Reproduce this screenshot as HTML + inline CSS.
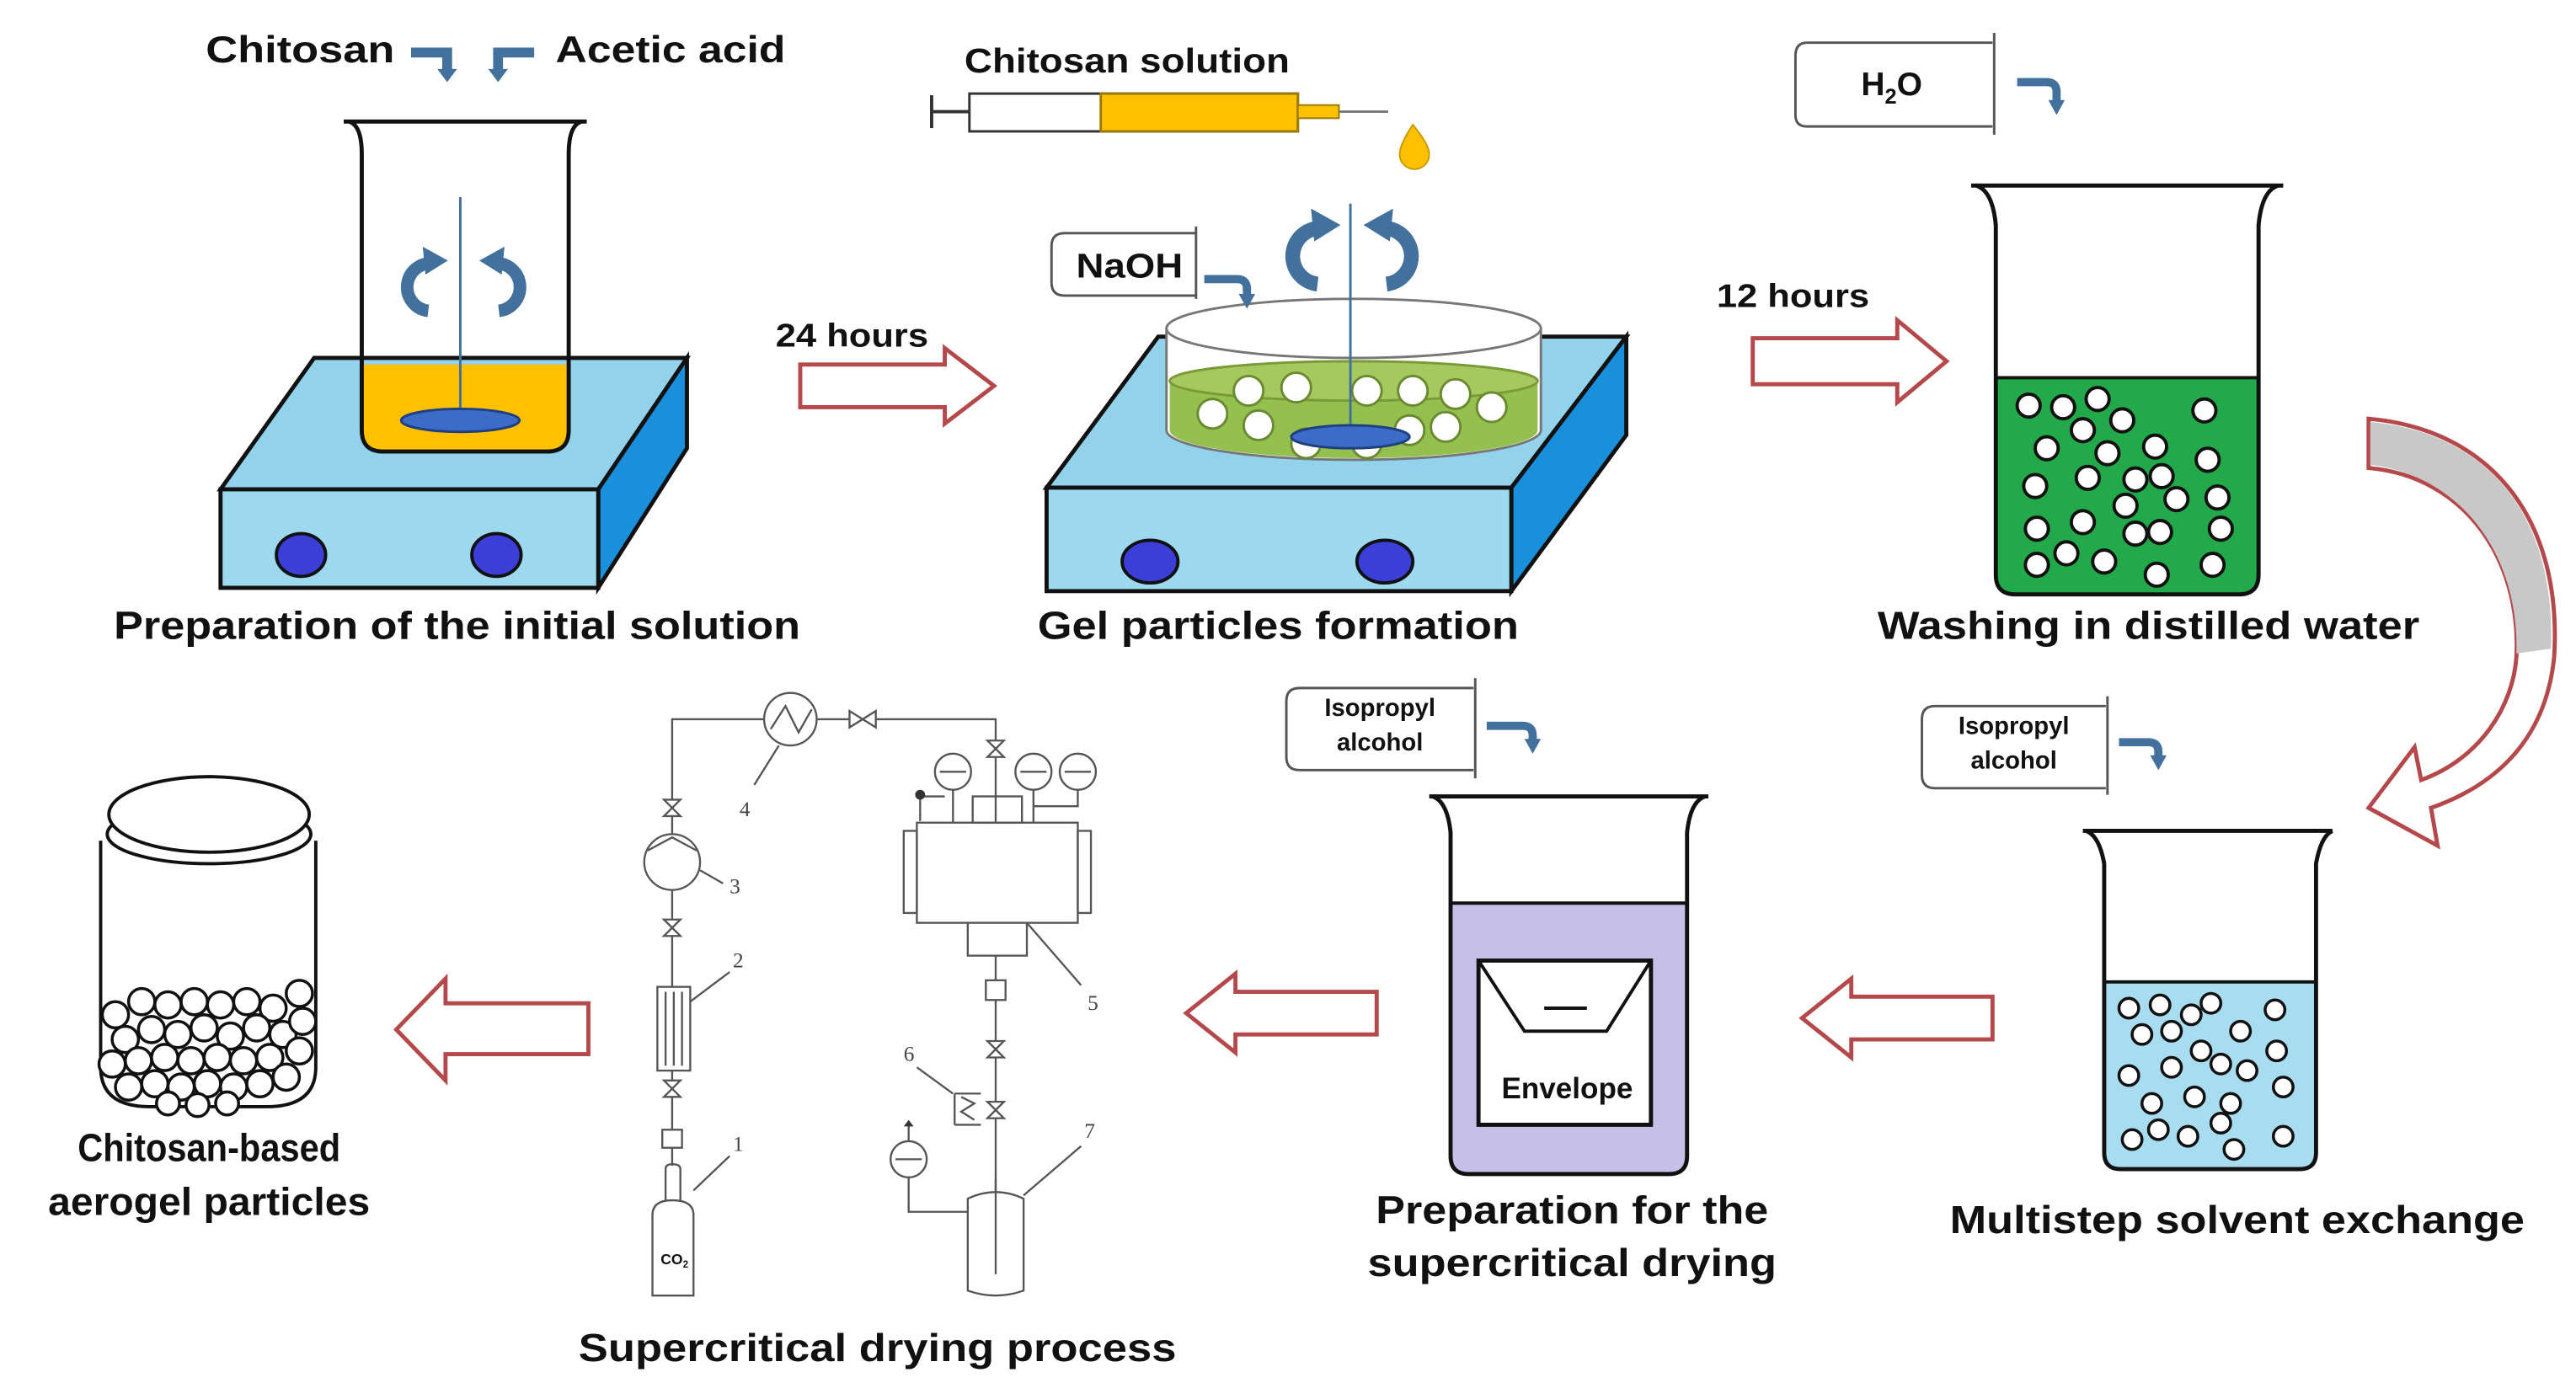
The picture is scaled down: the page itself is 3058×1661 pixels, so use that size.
<!DOCTYPE html>
<html><head><meta charset="utf-8"><style>
html,body{margin:0;padding:0;background:#fff;}
svg{display:block;}
text{font-family:"Liberation Sans",Arial,sans-serif;font-weight:bold;fill:#111;}
.sch{fill:none;stroke:#555;stroke-width:1.2;}
.num{font-family:"Liberation Serif",serif;font-weight:normal;font-size:13px;fill:#444;}
</style></head><body>
<svg width="3058" height="1661" viewBox="0 0 1568 852" xmlns="http://www.w3.org/2000/svg">
<defs>
<g id="rotL"><path d="M14,-16 A16,16 0 1 0 10,18" fill="none" stroke="#41719c" stroke-width="9"/><path d="M6,-28 l18,10 l-16,10z" fill="#41719c"/></g>
</defs>

<!-- ===== Panel 1 ===== -->
<text x="125" y="38" font-size="23" textLength="115" lengthAdjust="spacingAndGlyphs">Chitosan</text>
<text x="338" y="38" font-size="23" textLength="140" lengthAdjust="spacingAndGlyphs">Acetic acid</text>
<path d="M250,32 h22 v12" fill="none" stroke="#41719c" stroke-width="6"/><path d="M266,42 l6,8 l6,-8z" fill="#41719c"/>
<path d="M325,32 h-22 v12" fill="none" stroke="#41719c" stroke-width="6"/><path d="M297,42 l6,8 l6,-8z" fill="#41719c"/>
<!-- hot plate 1 -->
<polygon points="134,298 191,218 418,218 364,298" fill="#92d2ea" stroke="#111" stroke-width="2.5"/>
<polygon points="364,298 418,218 418,273 364,358" fill="#1a8fdc" stroke="#111" stroke-width="2.5"/>
<rect x="134" y="298" width="230" height="60" fill="#9cd8ee" stroke="#111" stroke-width="2.5"/>
<ellipse cx="183" cy="338" rx="15" ry="13" fill="#3b3fd8" stroke="#111" stroke-width="2"/>
<ellipse cx="302" cy="338" rx="15" ry="13" fill="#3b3fd8" stroke="#111" stroke-width="2"/>
<!-- beaker 1 -->
<path d="M220,222 V262 q0,13 13,13 H333 q13,0 13,-13 V222z" fill="#ffc000"/>
<path d="M209,74 H357 M212,74 q8,2 8,20 V262 q0,13 13,13 H333 q13,0 13,-13 V94 q0,-18 8,-20" fill="none" stroke="#111" stroke-width="2.5"/>
<line x1="280" y1="120" x2="280" y2="250" stroke="#41719c" stroke-width="1.5"/>
<ellipse cx="280" cy="256" rx="36" ry="7" fill="#3a6cc8" stroke="#1f3f80" stroke-width="1.5"/>
<use href="#rotL" transform="translate(252,174) scale(0.85)"/>
<use href="#rotL" transform="translate(312,174) scale(-0.85,0.85)"/>
<text x="278" y="389" font-size="24" text-anchor="middle" textLength="418" lengthAdjust="spacingAndGlyphs">Preparation of the initial solution</text>

<!-- arrow 24h -->
<text x="472" y="211" font-size="20" textLength="93" lengthAdjust="spacingAndGlyphs">24 hours</text>
<path d="M487,222 H575 V212 L605,235 L575,258 V248 H487z" fill="#fff" stroke="#b5484a" stroke-width="2.5"/>

<!-- ===== Panel 2 ===== -->
<text x="587" y="44" font-size="21" textLength="198" lengthAdjust="spacingAndGlyphs">Chitosan solution</text>
<line x1="567" y1="68" x2="590" y2="68" stroke="#333" stroke-width="2"/>
<line x1="567" y1="58" x2="567" y2="78" stroke="#333" stroke-width="2"/>
<rect x="590" y="57" width="200" height="23" fill="#fff" stroke="#333" stroke-width="1.5"/>
<rect x="670" y="57" width="120" height="23" fill="#ffc000" stroke="#9a7a00" stroke-width="1.5"/>
<rect x="790" y="64" width="25" height="8" fill="#ffc000" stroke="#9a7a00" stroke-width="1"/>
<line x1="815" y1="68" x2="845" y2="68" stroke="#777" stroke-width="1.5"/>
<path d="M860,76 q10,12 10,18 a9,9 0 0 1 -18,0 q0,-6 8,-18z" fill="#ffc000" stroke="#c99a00"/>
<!-- hot plate 2 -->
<polygon points="637,297 705,205 990,205 920,297" fill="#92d2ea" stroke="#111" stroke-width="2.5"/>
<polygon points="920,297 990,205 990,265 920,360" fill="#1a8fdc" stroke="#111" stroke-width="2.5"/>
<rect x="637" y="297" width="283" height="63" fill="#9cd8ee" stroke="#111" stroke-width="2.5"/>
<ellipse cx="700" cy="342" rx="17" ry="13" fill="#3b3fd8" stroke="#111" stroke-width="2"/>
<ellipse cx="843" cy="342" rx="17" ry="13" fill="#3b3fd8" stroke="#111" stroke-width="2"/>
<!-- petri dish -->
<path d="M710,200 V262 A114,18 0 0 0 938,262 V200" fill="#fff" stroke="#777" stroke-width="1.5"/>
<path d="M712,232 V262 A112,17 0 0 0 936,262 V232z" fill="#93c04e"/>
<ellipse cx="824" cy="232" rx="112" ry="12" fill="#a6c85e" stroke="#7a9a38" stroke-width="1.5"/>
<ellipse cx="824" cy="200" rx="114" ry="18" fill="none" stroke="#777" stroke-width="1.5"/>
<g fill="#fff" stroke="#6a8a30" stroke-width="1.5">
<circle cx="738" cy="252" r="9"/><circle cx="760" cy="238" r="9"/><circle cx="766" cy="259" r="9"/><circle cx="789" cy="236" r="9"/>
<circle cx="832" cy="238" r="9"/><circle cx="860" cy="238" r="9"/><circle cx="886" cy="240" r="9"/><circle cx="908" cy="248" r="9"/>
<circle cx="795" cy="270" r="9"/><circle cx="832" cy="270" r="9"/><circle cx="858" cy="262" r="9"/><circle cx="880" cy="260" r="9"/>
</g>
<line x1="822" y1="124" x2="822" y2="262" stroke="#41719c" stroke-width="1.5"/>
<ellipse cx="822" cy="266" rx="36" ry="7" fill="#3a6cc8" stroke="#1f3f80" stroke-width="1.5"/>
<use href="#rotL" transform="translate(792,155)"/>
<use href="#rotL" transform="translate(854,155) scale(-1,1)"/>
<path d="M648,142 H728 M728,138 V182 M648,142 q-8,0 -8,8 V172 q0,8 8,8 H728" fill="none" stroke="#555" stroke-width="1.5"/>
<text x="655" y="169" font-size="21" textLength="65" lengthAdjust="spacingAndGlyphs">NaOH</text>
<path d="M733,170 h20 q6,0 6,6 v4" fill="none" stroke="#41719c" stroke-width="5"/><path d="M754,179 l5,9 l5,-9z" fill="#41719c"/>
<text x="778" y="389" font-size="24" text-anchor="middle" textLength="293" lengthAdjust="spacingAndGlyphs">Gel particles formation</text>

<!-- arrow 12h -->
<text x="1045" y="187" font-size="20" textLength="93" lengthAdjust="spacingAndGlyphs">12 hours</text>
<path d="M1067,206 H1155 V195 L1185,220 L1155,245 V234 H1067z" fill="#fff" stroke="#b5484a" stroke-width="2.5"/>

<!-- ===== Panel 3 ===== -->
<path d="M1100,26 H1213 M1214,20 V82 M1100,26 q-7,0 -7,8 V70 q0,7 7,7 H1213" fill="none" stroke="#555" stroke-width="1.5"/>
<text x="1133" y="58" font-size="20">H<tspan font-size="13" dy="5">2</tspan><tspan dy="-5">O</tspan></text>
<path d="M1228,50 h18 q6,0 6,6 v6" fill="none" stroke="#41719c" stroke-width="5"/><path d="M1247,61 l5,9 l5,-9z" fill="#41719c"/>
<path d="M1216,230 V350 q0,12 12,12 H1363 q12,0 12,-12 V230z" fill="#22a94a"/>
<line x1="1216" y1="230" x2="1375" y2="230" stroke="#111" stroke-width="2"/>
<path d="M1200,113 H1390 M1203,113 q10,3 12,24 V350 q0,12 12,12 H1363 q12,0 12,-12 V137 q2,-21 12,-24" fill="none" stroke="#111" stroke-width="2.5"/>
<g fill="#fff" stroke="#111" stroke-width="2">
<circle cx="1235" cy="247" r="7"/><circle cx="1256" cy="248" r="7"/><circle cx="1277" cy="243" r="7"/><circle cx="1342" cy="250" r="7"/>
<circle cx="1268" cy="262" r="7"/><circle cx="1292" cy="256" r="7"/><circle cx="1283" cy="276" r="7"/><circle cx="1246" cy="273" r="7"/>
<circle cx="1312" cy="272" r="7"/><circle cx="1344" cy="280" r="7"/><circle cx="1271" cy="291" r="7"/><circle cx="1300" cy="292" r="7"/>
<circle cx="1316" cy="290" r="7"/><circle cx="1239" cy="296" r="7"/><circle cx="1294" cy="308" r="7"/><circle cx="1325" cy="304" r="7"/>
<circle cx="1350" cy="303" r="7"/><circle cx="1240" cy="322" r="7"/><circle cx="1268" cy="318" r="7"/><circle cx="1300" cy="325" r="7"/>
<circle cx="1315" cy="324" r="7"/><circle cx="1352" cy="322" r="7"/><circle cx="1240" cy="344" r="7"/><circle cx="1258" cy="337" r="7"/>
<circle cx="1281" cy="342" r="7"/><circle cx="1313" cy="350" r="7"/><circle cx="1347" cy="344" r="7"/>
</g>
<text x="1308" y="389" font-size="24" text-anchor="middle" textLength="330" lengthAdjust="spacingAndGlyphs">Washing in distilled water</text>

<!-- curved arrow -->
<path d="M1442,255 C1520,262 1560,320 1555,400 C1550,450 1520,478 1480,492 L1484,515 L1442,492 L1470,455 L1474,475 C1510,462 1530,430 1532,400 C1535,340 1500,290 1442,285z" fill="#fff" stroke="#b5484a" stroke-width="2.5"/>
<path d="M1443,257 C1520,264 1556,320 1553,395 L1532,398 C1534,340 1500,290 1443,283z" fill="#c8c8c8"/>

<!-- ===== Bottom right: Multistep ===== -->
<path d="M1178,430 H1282 M1283,424 V484 M1178,430 q-8,0 -8,8 V472 q0,8 8,8 H1282" fill="none" stroke="#555" stroke-width="1.5"/>
<text x="1226" y="447" font-size="15" text-anchor="middle">Isopropyl</text>
<text x="1226" y="468" font-size="15" text-anchor="middle">alcohol</text>
<path d="M1290,452 h18 q6,0 6,6 v4" fill="none" stroke="#41719c" stroke-width="5"/><path d="M1309,460 l5,9 l5,-9z" fill="#41719c"/>
<path d="M1281,598 V702 q0,10 10,10 H1400 q10,0 10,-10 V598z" fill="#a8dcf0"/>
<line x1="1281" y1="598" x2="1410" y2="598" stroke="#111" stroke-width="2"/>
<path d="M1268,506 H1420 M1270,506 q8,3 11,20 V702 q0,10 10,10 H1400 q10,0 10,-10 V526 q3,-17 10,-20" fill="none" stroke="#111" stroke-width="2.5"/>
<g fill="#fff" stroke="#111" stroke-width="1.8">
<circle cx="1296" cy="614" r="6"/><circle cx="1315" cy="612" r="6"/><circle cx="1334" cy="618" r="6"/><circle cx="1346" cy="611" r="6"/><circle cx="1385" cy="615" r="6"/>
<circle cx="1304" cy="630" r="6"/><circle cx="1322" cy="628" r="6"/><circle cx="1340" cy="640" r="6"/><circle cx="1364" cy="628" r="6"/>
<circle cx="1296" cy="655" r="6"/><circle cx="1322" cy="650" r="6"/><circle cx="1352" cy="648" r="6"/><circle cx="1368" cy="652" r="6"/><circle cx="1386" cy="640" r="6"/>
<circle cx="1310" cy="672" r="6"/><circle cx="1336" cy="668" r="6"/><circle cx="1358" cy="672" r="6"/><circle cx="1390" cy="662" r="6"/>
<circle cx="1298" cy="694" r="6"/><circle cx="1314" cy="688" r="6"/><circle cx="1332" cy="692" r="6"/><circle cx="1352" cy="684" r="6"/><circle cx="1360" cy="700" r="6"/><circle cx="1390" cy="692" r="6"/>
</g>
<text x="1362" y="751" font-size="24" text-anchor="middle" textLength="350" lengthAdjust="spacingAndGlyphs">Multistep solvent exchange</text>

<path d="M1213,607 H1127 V596 L1097,620 L1127,644 V633 H1213z" fill="#fff" stroke="#b5484a" stroke-width="2.5"/>

<!-- ===== Preparation for supercritical drying ===== -->
<path d="M791,419 H897 M898,413 V474 M791,419 q-8,0 -8,8 V461 q0,8 8,8 H897" fill="none" stroke="#555" stroke-width="1.5"/>
<text x="840" y="436" font-size="15" text-anchor="middle">Isopropyl</text>
<text x="840" y="457" font-size="15" text-anchor="middle">alcohol</text>
<path d="M905,442 h22 q6,0 6,6 v4" fill="none" stroke="#41719c" stroke-width="5"/><path d="M928,450 l5,9 l5,-9z" fill="#41719c"/>
<path d="M883,550 V704 q0,11 11,11 H1016 q11,0 11,-11 V550z" fill="#c6bfe8"/>
<line x1="883" y1="550" x2="1027" y2="550" stroke="#111" stroke-width="2"/>
<path d="M870,485 H1040 M872,485 q9,3 11,22 V704 q0,11 11,11 H1016 q11,0 11,-11 V507 q2,-19 11,-22" fill="none" stroke="#111" stroke-width="2.5"/>
<rect x="900" y="585" width="105" height="100" fill="#fff" stroke="#111" stroke-width="2.5"/>
<path d="M900,585 L928,628 H978 L1005,585" fill="none" stroke="#111" stroke-width="2"/>
<line x1="940" y1="614" x2="966" y2="614" stroke="#111" stroke-width="2"/>
<text x="954" y="669" font-size="18" text-anchor="middle">Envelope</text>
<text x="957" y="745" font-size="24" text-anchor="middle" textLength="239" lengthAdjust="spacingAndGlyphs">Preparation for the</text>
<text x="957" y="777" font-size="24" text-anchor="middle" textLength="249" lengthAdjust="spacingAndGlyphs">supercritical drying</text>

<path d="M838,604 H752 V593 L722,617 L752,641 V630 H838z" fill="#fff" stroke="#b5484a" stroke-width="2.5"/>

<!-- ===== Supercritical schematic ===== -->
<g class="sch">
<path d="M409,710 V438 H465 M497,438 H606 V501"/>
<circle cx="481" cy="438" r="16" fill="#fff"/>
<path d="M469,444 L478,430 L486,446 L494,432"/>
<path d="M517,433 L533,443 V433 L517,443z" fill="#fff"/>
<path d="M601,451 L611,461 H601 L611,451z" fill="#fff"/>
<path d="M404,487 L414,497 H404 L414,487z" fill="#fff"/>
<circle cx="409" cy="525" r="17" fill="#fff"/>
<path d="M394,518 L409,510 L424,518"/>
<line x1="426" y1="530" x2="440" y2="538"/>
<path d="M404,560 L414,570 H404 L414,560z" fill="#fff"/>
<rect x="400" y="601" width="20" height="51" fill="#fff"/>
<line x1="405" y1="604" x2="405" y2="649"/><line x1="410" y1="604" x2="410" y2="649"/><line x1="415" y1="604" x2="415" y2="649"/>
<line x1="420" y1="610" x2="444" y2="592"/>
<path d="M404,658 L414,668 H404 L414,658z" fill="#fff"/>
<rect x="403" y="688" width="12" height="11" fill="#fff"/>
<path d="M405,731 V712 q0,-3 4,-3 q5,0 5,3 V731"/>
<path d="M397,789 V740 q0,-9 12,-9 q13,0 13,9 V789z" fill="#fff"/>
<line x1="422" y1="725" x2="444" y2="704"/>
<line x1="459" y1="478" x2="474" y2="454"/>
<rect x="558" y="501" width="98" height="61" fill="#fff"/>
<rect x="550" y="506" width="8" height="50"/>
<rect x="656" y="506" width="8" height="50"/>
<rect x="592" y="485" width="30" height="16"/>
<path d="M580,481 V501 M629,481 V501 M656,481 V491 H629"/>
<circle cx="580" cy="470" r="11" fill="#fff"/><circle cx="629" cy="470" r="11" fill="#fff"/><circle cx="656" cy="470" r="11" fill="#fff"/>
<line x1="572" y1="470" x2="588" y2="470"/><line x1="621" y1="470" x2="637" y2="470"/><line x1="648" y1="470" x2="664" y2="470"/>
<path d="M560,500 V485 H575"/>
<rect x="589" y="562" width="36" height="20" fill="#fff"/>
<path d="M606,582 V785"/>
<line x1="625" y1="562" x2="658" y2="600"/>
<rect x="600" y="597" width="12" height="12" fill="#fff"/>
<path d="M601,634 L611,644 H601 L611,634z" fill="#fff"/>
<path d="M601,671 L611,681 H601 L611,671z" fill="#fff"/>
<path d="M581,666 H597 M581,685 H597 M581,666 V685 M585,668 L593,672 L585,677 L593,682"/>
<line x1="558" y1="650" x2="580" y2="666"/>
<path d="M589,786 V730 q17,-8 34,0 V786 q-17,6 -34,0z" fill="#fff"/>
<line x1="606" y1="718" x2="606" y2="776"/>
<path d="M553,717 V738 H589"/>
<circle cx="553" cy="706" r="11" fill="#fff"/>
<line x1="545" y1="706" x2="561" y2="706"/>
<line x1="553" y1="684" x2="553" y2="695"/>
<line x1="623" y1="728" x2="658" y2="698"/>
</g>
<circle cx="560" cy="484" r="3" fill="#333"/>
<path d="M553,682 l-3,4 h6z" fill="#333"/>
<text x="450" y="497" class="num">4</text>
<text x="444" y="544" class="num">3</text>
<text x="446" y="589" class="num">2</text>
<text x="446" y="701" class="num">1</text>
<text x="662" y="615" class="num">5</text>
<text x="550" y="646" class="num">6</text>
<text x="660" y="693" class="num">7</text>
<text x="402" y="770" font-family="Liberation Serif,serif" font-weight="normal" font-size="9" fill="#555">CO<tspan font-size="6" dy="2">2</tspan></text>
<text x="534" y="829" font-size="24" text-anchor="middle" textLength="364" lengthAdjust="spacingAndGlyphs">Supercritical drying process</text>

<path d="M358,611 H271 V596 L241,627 L271,658 V642 H358z" fill="#fff" stroke="#b5484a" stroke-width="2.5"/>

<!-- ===== Jar ===== -->
<path d="M61,512 V650 q0,24 30,24 H162 q30,0 30,-24 V512" fill="#fff" stroke="#111" stroke-width="2"/>
<g fill="#fff" stroke="#111" stroke-width="1.8">
<circle cx="70" cy="618" r="8"/><circle cx="86" cy="610" r="8"/><circle cx="102" cy="612" r="8"/><circle cx="118" cy="610" r="8"/><circle cx="134" cy="612" r="8"/><circle cx="150" cy="610" r="8"/><circle cx="166" cy="614" r="8"/><circle cx="182" cy="605" r="8"/>
<circle cx="76" cy="633" r="8"/><circle cx="92" cy="627" r="8"/><circle cx="108" cy="630" r="8"/><circle cx="124" cy="626" r="8"/><circle cx="140" cy="631" r="8"/><circle cx="156" cy="626" r="8"/><circle cx="172" cy="630" r="8"/><circle cx="184" cy="622" r="8"/>
<circle cx="68" cy="648" r="8"/><circle cx="84" cy="646" r="8"/><circle cx="100" cy="644" r="8"/><circle cx="116" cy="646" r="8"/><circle cx="132" cy="644" r="8"/><circle cx="148" cy="646" r="8"/><circle cx="164" cy="644" r="8"/><circle cx="182" cy="640" r="8"/>
<circle cx="78" cy="662" r="8"/><circle cx="94" cy="660" r="8"/><circle cx="110" cy="662" r="8"/><circle cx="126" cy="660" r="8"/><circle cx="142" cy="662" r="8"/><circle cx="158" cy="660" r="8"/><circle cx="174" cy="656" r="8"/>
<circle cx="102" cy="672" r="7"/><circle cx="120" cy="673" r="7"/><circle cx="138" cy="672" r="7"/>
</g>
<ellipse cx="127" cy="508" rx="62" ry="18" fill="#fff" stroke="#111" stroke-width="2"/>
<ellipse cx="127" cy="496" rx="61" ry="23" fill="#fff" stroke="#111" stroke-width="2"/>
<text x="127" y="707" font-size="24" text-anchor="middle" textLength="160" lengthAdjust="spacingAndGlyphs">Chitosan-based</text>
<text x="127" y="740" font-size="24" text-anchor="middle" textLength="196" lengthAdjust="spacingAndGlyphs">aerogel particles</text>
</svg>
</body></html>
